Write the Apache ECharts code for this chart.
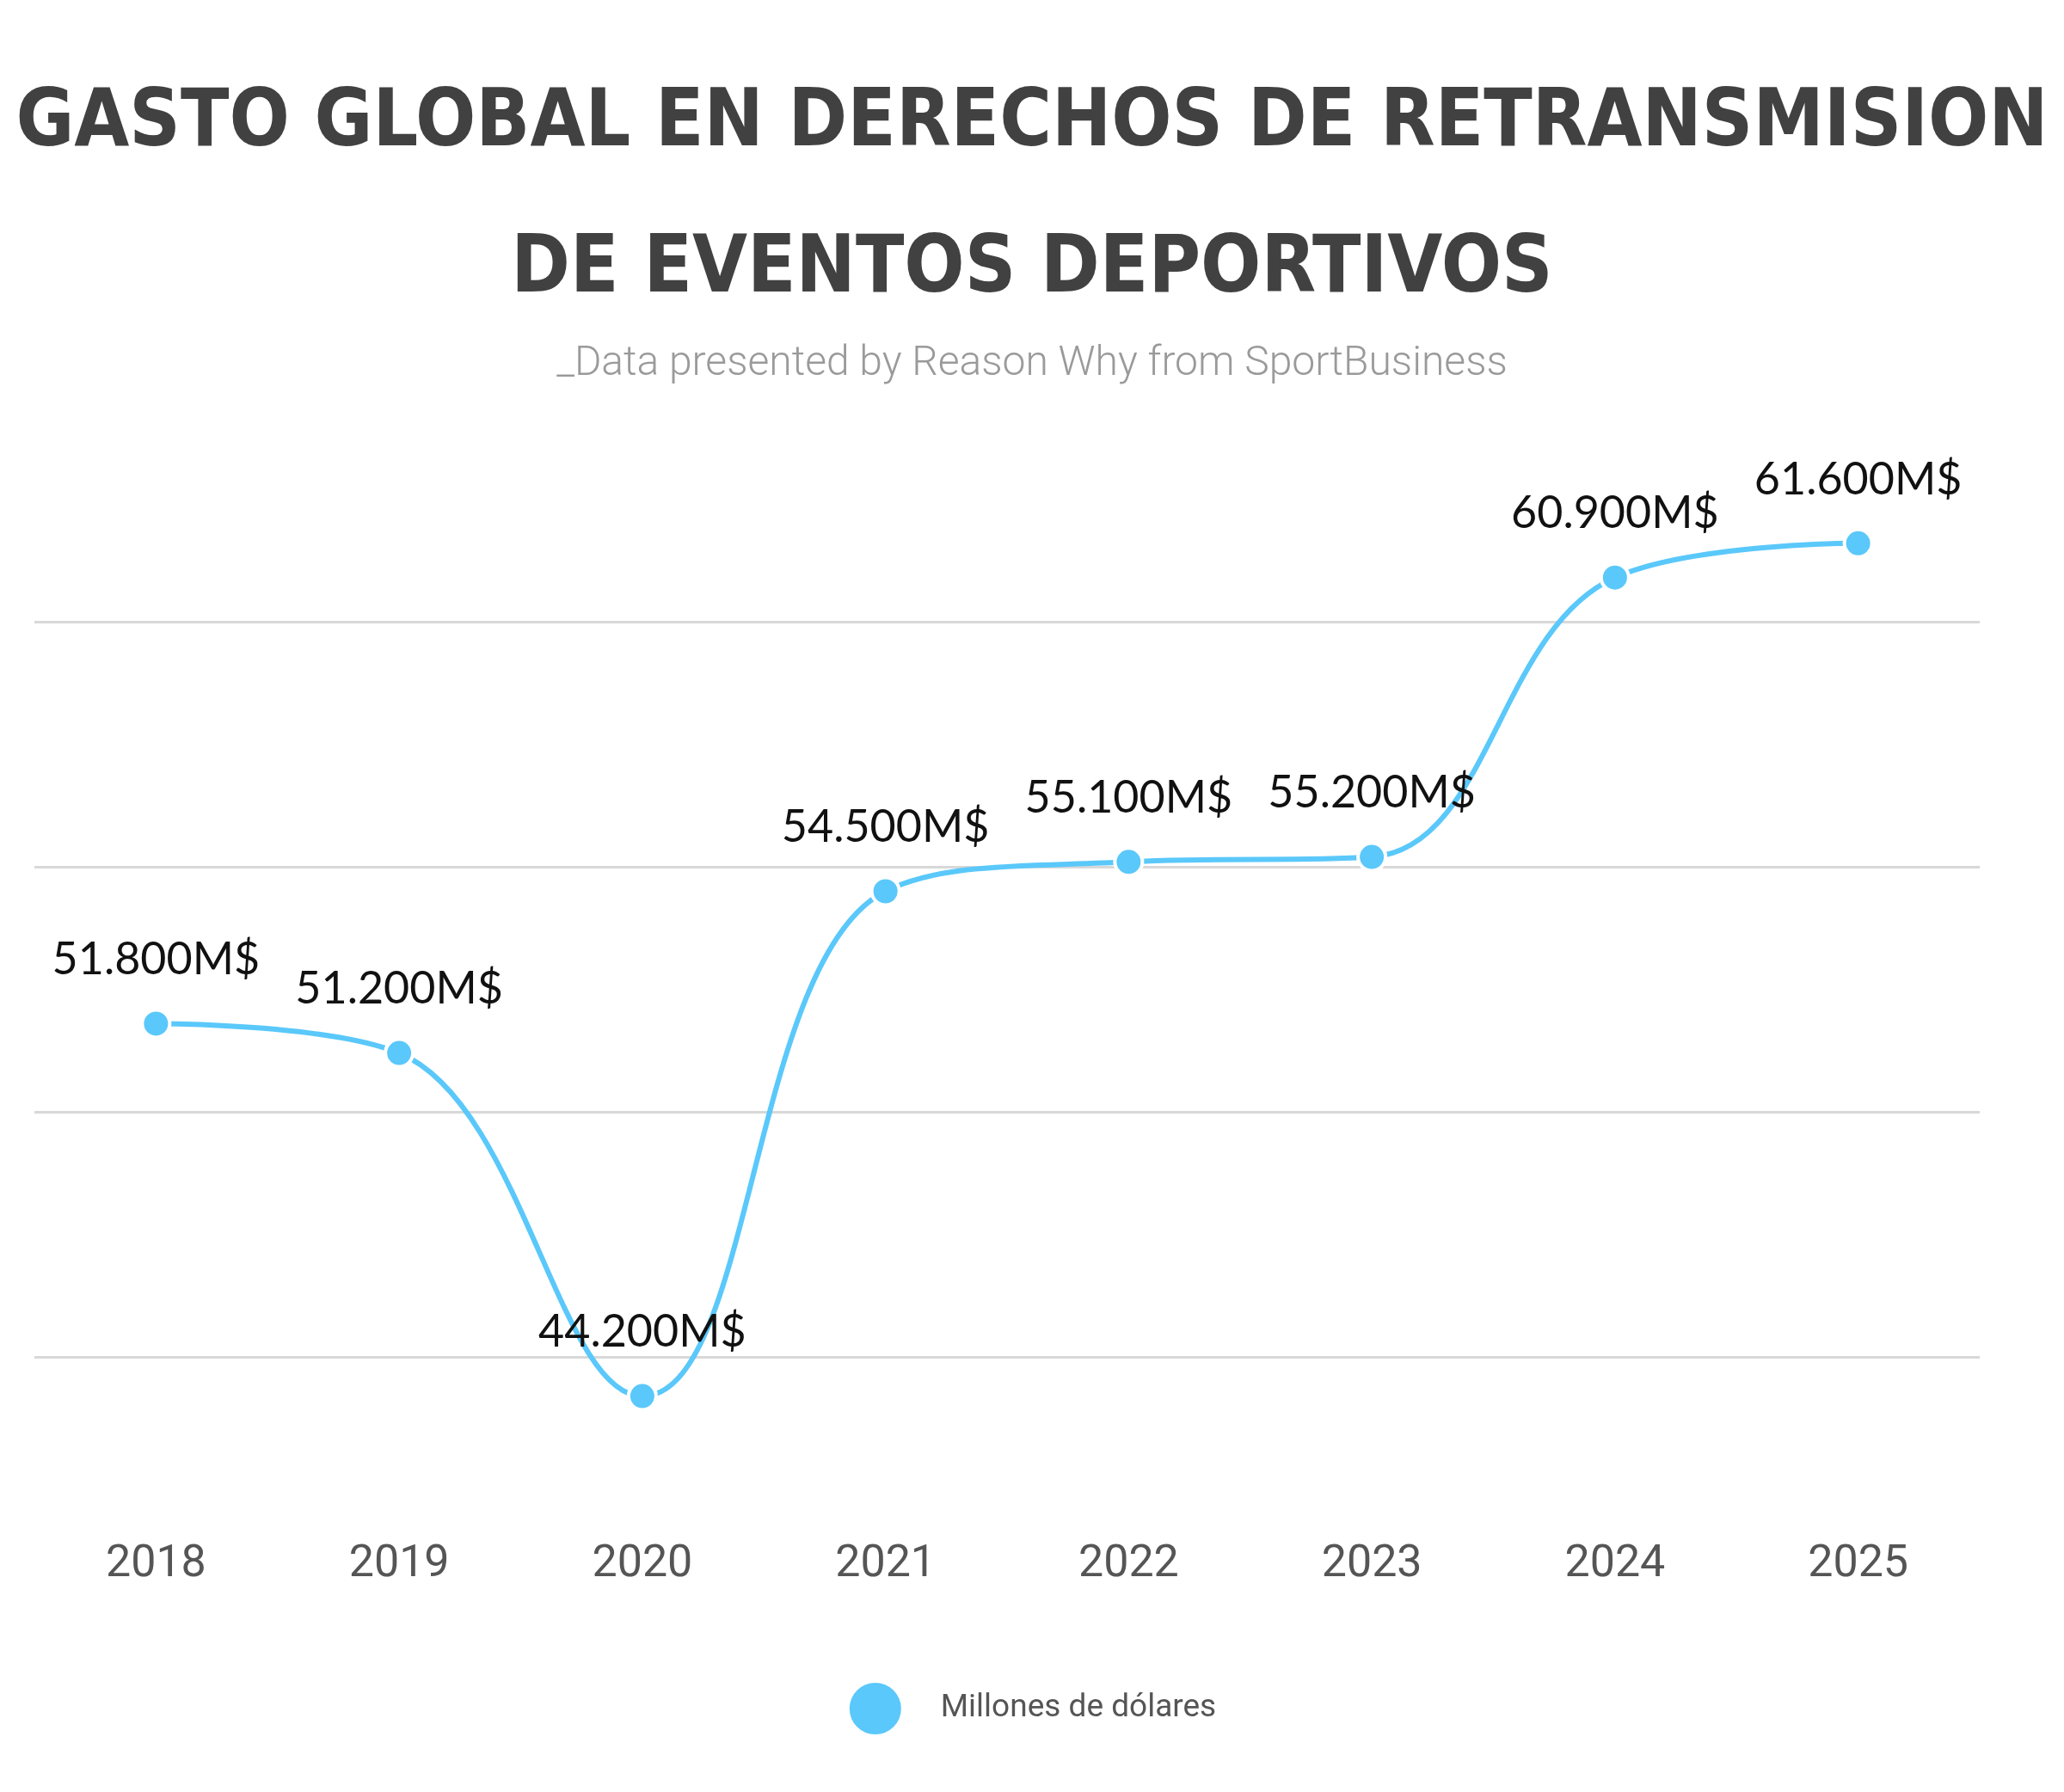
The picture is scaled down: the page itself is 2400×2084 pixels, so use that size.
<!DOCTYPE html>
<html><head><meta charset="utf-8">
<script src="https://cdn.jsdelivr.net/npm/echarts@6/dist/echarts.min.js"></script>
<style>html,body{margin:0;background:#fff}#chart{width:2400px;height:2084px}</style>
</head><body><div id="chart"></div>
<script>
const years = ["2018", "2019", "2020", "2021", "2022", "2023", "2024", "2025"];
const spending = [51.8, 51.2, 44.2, 54.5, 55.1, 55.2, 60.9, 61.6];
const gridValues = [45, 50, 55, 60];
const seriesName = "Millones de dólares";

const chart = echarts.init(document.getElementById("chart"));

chart.setOption({
  backgroundColor: "#fff",
  title: [
    {
      text: "GASTO GLOBAL EN DERECHOS DE RETRANSMISION\nDE EVENTOS DEPORTIVOS",
      left: "center", top: 55,
      textStyle: { fontFamily: "DejaVu Sans Condensed", fontWeight: "bold", fontSize: 92, lineHeight: 170, color: "#414141", align: "center" },
    },
    {
      text: "_Data presented by Reason Why from SportBusiness",
      left: "center", top: 395,
      textStyle: { fontFamily: "Roboto", fontWeight: 300, fontSize: 48, color: "#9a9a9a" },
    },
  ],
  legend: {
    bottom: 60, left: "center",
    icon: "circle", itemWidth: 62, itemHeight: 62,
    textStyle: { fontFamily: "Roboto", fontSize: 37, color: "#555", padding: [0, 0, 0, 40] },
  },
  grid: { left: 40, width: 2262, top: 552, bottom: 335 },
  xAxis: {
    type: "category", data: years, boundaryGap: true,
    axisLine: { show: false }, axisTick: { show: false },
    axisLabel: { fontFamily: "Roboto", fontSize: 52, color: "#555", margin: 45 },
  },
  yAxis: {
    type: "value", min: 42, max: 63,
    axisLabel: { show: false }, splitLine: { show: false },
    axisLine: { show: false }, axisTick: { show: false },
  },
  series: [{
    name: seriesName, type: "line", smooth: 0.4, data: spending,
    color: "#5ac8fa",
    lineStyle: { width: 6 },
    symbol: "circle", symbolSize: 32,
    itemStyle: { borderColor: "#fff", borderWidth: 4 },
    label: {
      show: true, position: "top", distance: 30,
      fontFamily: "Lato", fontSize: 52, color: "#111",
      formatter: (p) => p.value.toFixed(1) + "00M$",
    },
    markLine: {
      silent: true, symbol: "none", label: { show: false },
      lineStyle: { color: "#d8d8d8", width: 3, type: "solid" },
      data: gridValues.map((v) => ({ yAxis: v })),
      z: 1,
    },
  }],
});
</script></body></html>
